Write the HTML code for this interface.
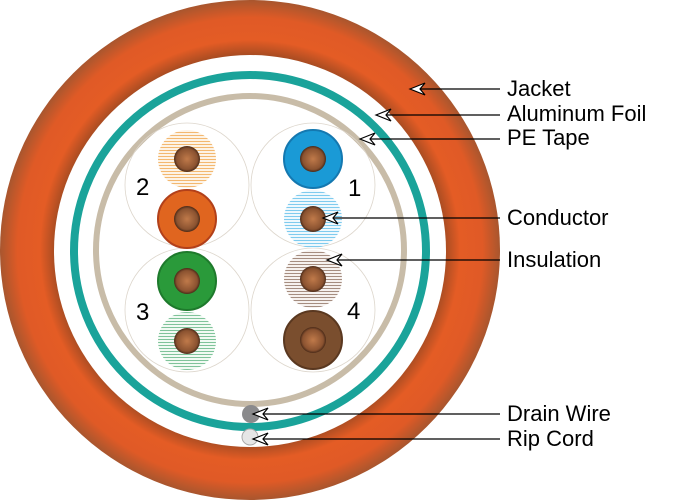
<!DOCTYPE html>
<html><head><meta charset="utf-8"><style>
html,body{margin:0;padding:0;background:#fff;}
svg{display:block;}
text{font-family:"Liberation Sans",sans-serif;}
</style></head><body>
<svg width="678" height="500" viewBox="0 0 678 500" xmlns="http://www.w3.org/2000/svg">
<defs>
<radialGradient id="jk" cx="250" cy="250" r="250" gradientUnits="userSpaceOnUse">
<stop offset="0.78" stop-color="#a84c22"/>
<stop offset="0.84" stop-color="#e45c25"/>
<stop offset="0.93" stop-color="#e05a26"/>
<stop offset="1" stop-color="#a8562e"/>
</radialGradient>
<radialGradient id="cu" cx="0.5" cy="0.5" r="0.5">
<stop offset="0" stop-color="#c07a4a"/><stop offset="0.8" stop-color="#8a5230"/><stop offset="1" stop-color="#4a2a18"/>
</radialGradient>
<pattern id="st" width="4" height="3" patternUnits="userSpaceOnUse"><rect width="4" height="3" fill="#fff"/><rect width="4" height="1" fill="var(--c)"/></pattern>
<pattern id="sO" width="4" height="3" patternUnits="userSpaceOnUse"><rect width="4" height="3" fill="#fdf3e6"/><rect width="4" height="1" fill="#f3b870"/></pattern>
<pattern id="sB" width="4" height="3" patternUnits="userSpaceOnUse"><rect width="4" height="3" fill="#eef8fd"/><rect width="4" height="1" fill="#7fcbee"/></pattern>
<pattern id="sG" width="4" height="3" patternUnits="userSpaceOnUse"><rect width="4" height="3" fill="#f1faf3"/><rect width="4" height="1" fill="#7fc39a"/></pattern>
<pattern id="sN" width="4" height="3" patternUnits="userSpaceOnUse"><rect width="4" height="3" fill="#f6f1ee"/><rect width="4" height="1" fill="#a58d80"/></pattern>
<g id="ah"><path d="M0,0 L15,-6 L10,0 L15,6 Z" fill="#fff" stroke="#000" stroke-width="1.2"/></g>
</defs>
<circle cx="250" cy="250" r="250" fill="url(#jk)"/>
<circle cx="250" cy="251" r="196" fill="#fff"/>
<circle cx="250" cy="251" r="176" fill="none" stroke="#1aa39a" stroke-width="8"/>
<circle cx="250" cy="250" r="154" fill="none" stroke="#c8bca8" stroke-width="6"/>
<g fill="none" stroke="#ddd6cc" stroke-width="0.8">
<circle cx="187" cy="185" r="62"/><circle cx="313" cy="185" r="62"/>
<circle cx="187" cy="310" r="62"/><circle cx="313" cy="310" r="62"/>
</g>
<!-- wires -->
<circle cx="187" cy="159" r="29" fill="url(#sO)"/>
<circle cx="187" cy="219" r="29" fill="#e0651f" stroke="#b2401a" stroke-width="2"/>
<circle cx="313" cy="159" r="29" fill="#1a9ad6" stroke="#1478b0" stroke-width="2"/>
<circle cx="313" cy="219" r="29" fill="url(#sB)"/>
<circle cx="187" cy="281" r="29" fill="#2a9a3a" stroke="#1e7a2c" stroke-width="2"/>
<circle cx="187" cy="341" r="29" fill="url(#sG)"/>
<circle cx="313" cy="279" r="29" fill="url(#sN)"/>
<circle cx="313" cy="340" r="29" fill="#7a4e2e" stroke="#5a3820" stroke-width="2"/>
<g fill="url(#cu)">
<circle cx="187" cy="159" r="13"/><circle cx="187" cy="219" r="13"/>
<circle cx="313" cy="159" r="13"/><circle cx="313" cy="219" r="13"/>
<circle cx="187" cy="281" r="13"/><circle cx="187" cy="341" r="13"/>
<circle cx="313" cy="279" r="13"/><circle cx="313" cy="340" r="13"/>
</g>
<g font-size="24" fill="#000">
<text x="136" y="195">2</text><text x="348" y="196">1</text>
<text x="136" y="320">3</text><text x="347" y="319">4</text>
</g>
<circle cx="251" cy="414" r="9" fill="#8a8a8c"/>
<circle cx="250" cy="437" r="8" fill="#e6e6e6" stroke="#aaa" stroke-width="1"/>
<!-- leaders -->
<g stroke="#000" stroke-width="1.3">
<line x1="420" y1="89" x2="500" y2="89"/>
<line x1="378" y1="115" x2="500" y2="115"/>
<line x1="362" y1="139" x2="500" y2="139"/>
<line x1="323" y1="218" x2="500" y2="218"/>
<line x1="327" y1="260" x2="500" y2="260"/>
<line x1="253" y1="414" x2="500" y2="414"/>
<line x1="253" y1="439" x2="500" y2="439"/>
</g>
<use href="#ah" x="410" y="89"/><use href="#ah" x="376" y="115"/><use href="#ah" x="360" y="139"/>
<use href="#ah" x="323" y="218"/><use href="#ah" x="327" y="260"/>
<use href="#ah" x="253" y="414"/><use href="#ah" x="253" y="439"/>
<g font-size="22" fill="#000">
<text x="507" y="96">Jacket</text>
<text x="507" y="121">Aluminum Foil</text>
<text x="507" y="145">PE Tape</text>
<text x="507" y="225">Conductor</text>
<text x="507" y="267">Insulation</text>
<text x="507" y="421">Drain Wire</text>
<text x="507" y="446">Rip Cord</text>
</g>
</svg>
</body></html>
